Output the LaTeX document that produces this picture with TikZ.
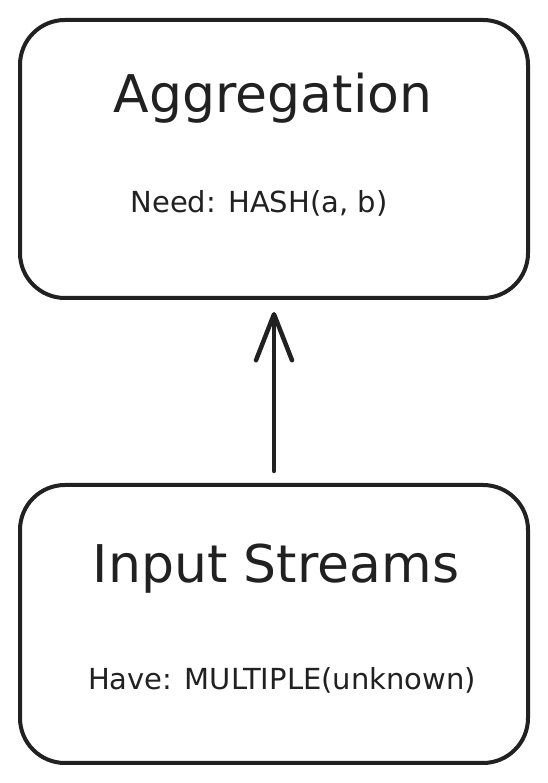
\documentclass[tikz,border=0pt]{standalone}
\usepackage{fontspec}
\setmainfont{DejaVu Sans}
\usetikzlibrary{positioning,arrows.meta}

\begin{document}
\begin{tikzpicture}[x=1pt,y=1pt]
        \tikzstyle{box}=[draw=black!87,line width=4pt,rounded corners=45pt,minimum width=508pt,minimum height=278pt,inner sep=0pt]
        \tikzstyle{title}=[anchor=base,text=black!87,font=\fontsize{52}{60}\selectfont]
        \tikzstyle{info}=[anchor=base,text=black!87,font=\fontsize{29}{34}\selectfont]
        \tikzstyle{link}=[draw=black!87,line width=4.5pt,line cap=round,-{Straight Barb[length=46pt,width=36pt,round]},shorten <=12pt,shorten >=12pt]

        \useasboundingbox (0,0) rectangle (547,783);

        \node [box] (agg) at (274,624) {};
        \node [box] (inp) at (274,159) {};

        %labels inside the boxes
        \node [title] (agg_title) at (273,670) {Aggregation};
        \node [info] (agg_need) at (259,570) {Need: HASH(a, b)};
        \node [title] (inp_title) at (276,200) {Input Streams};
        \node [info] (inp_have) at (282,93) {Have: MULTIPLE(unknown)};

        \draw [link] (inp) -- (agg);
\end{tikzpicture}
\end{document}
